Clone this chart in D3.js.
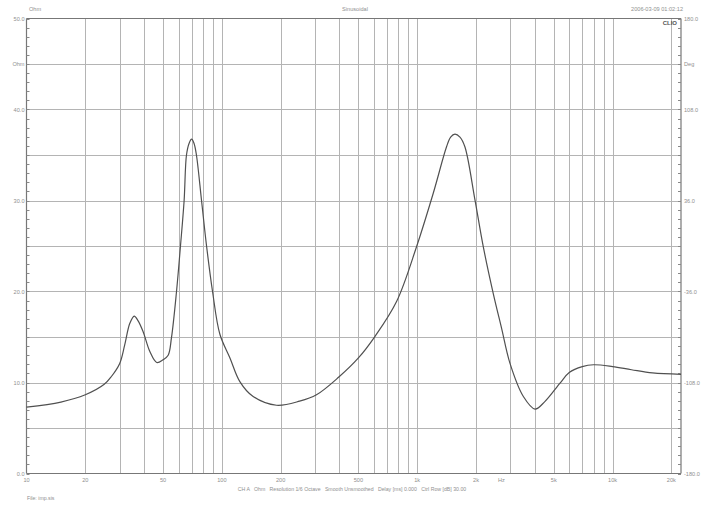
<!DOCTYPE html>
<html>
<head>
<meta charset="utf-8">
<script src="https://cdn.jsdelivr.net/npm/d3@7"></script>
<style>
  html, body { margin: 0; padding: 0; background: #fff; }
  svg text { font-family: "Liberation Sans", Arial, sans-serif; fill: #8f8f8f; }
</style>
</head>
<body>
<svg id="chart" width="708" height="510"></svg>
<script>
// ---- Data ----
const freqHz = [10, 15, 20, 25, 27.2, 30, 31.8, 33.8, 35.6, 37.2, 39.5, 42.8, 46.4, 50, 53.1, 55.2, 58.6, 61.4, 64.1, 65.9, 68, 70, 72, 74.1, 78.7, 83.5, 89.6, 97.7, 110, 123.6, 144.6, 190.5, 250, 305, 397, 500, 607, 784, 993, 1208, 1413, 1483, 1560, 1655, 1754, 1974, 2177, 2449, 2700, 2985, 3494, 4009, 4500, 5383, 6000, 7000, 8000, 10000, 12500, 16000, 22400];
const impedanceOhm = [7.3, 7.85, 8.65, 9.8, 10.66, 12.1, 14.1, 16.5, 17.3, 16.8, 15.6, 13.4, 12.2, 12.5, 13.0, 14.9, 20, 25, 30, 35, 36.3, 36.75, 36.3, 35, 30, 25, 20, 15.3, 12.7, 10.1, 8.46, 7.5, 7.95, 8.65, 10.6, 12.7, 15.05, 18.9, 24.95, 30.8, 35.9, 36.97, 37.3, 36.97, 35.9, 30.1, 24.95, 19.8, 16.0, 12.1, 8.46, 7.08, 7.9, 9.93, 11.1, 11.75, 11.95, 11.75, 11.4, 11.05, 10.9];
const xTickValues = [10, 20, 50, 100, 200, 500, 1000, 2000, 5000, 10000, 20000];
const xTickLabels = ["10", "20", "50", "100", "200", "500", "1k", "2k", "5k", "10k", "20k"];
const leftTickValues = [50, 45, 40, 30, 20, 10, 0];
const leftTickLabels = ["50.0", "Ohm", "40.0", "30.0", "20.0", "10.0", "0.0"];
const rightTickValues = [180, 144, 108, 36, -36, -108, -180];
const rightTickLabels = ["180.0", "Deg", "108.0", "36.0", "-36.0", "-108.0", "-180.0"];
const headerLeft = "Ohm";
const headerCenter = "Sinusoidal";
const headerRight = "2006-03-09 01:02:12";
const footerInfo = "CH A   Ohm   Resolution 1/6 Octave   Smooth Unsmoothed   Delay [ms] 0.000   Ctrl Row [dB] 30.00";
const fileInfo = "File: imp.sis";

// ---- Layout ----
const L = 26.5, R = 681, T = 18.5, B = 473.5;
const svg = d3.select("#chart");

const x = d3.scaleLog().domain([10, 22400]).range([L, R]);
const y = d3.scaleLinear().domain([0, 50]).range([B, T]);
const yR = d3.scaleLinear().domain([-180, 180]).range([B, T]);

// Vertical log grid
const gridX = [];
for (let dec = 10; dec <= 10000; dec *= 10) {
  for (let m = 1; m <= 9; m++) {
    const f = dec * m;
    if (f > 10 && f <= 20000) gridX.push(f);
  }
}
svg.append("g").selectAll("line").data(gridX).join("line")
  .attr("x1", d => Math.round(x(d)) + 0.5).attr("x2", d => Math.round(x(d)) + 0.5)
  .attr("y1", T).attr("y2", B)
  .attr("stroke", "#b4b4b4").attr("stroke-width", 1);

// Horizontal grid every 5 ohm
const gridY = d3.range(5, 50, 5);
svg.append("g").selectAll("line").data(gridY).join("line")
  .attr("x1", L).attr("x2", R)
  .attr("y1", d => Math.round(y(d)) + 0.5).attr("y2", d => Math.round(y(d)) + 0.5)
  .attr("stroke", "#b4b4b4").attr("stroke-width", 1);

// Frame
svg.append("line").attr("x1", L).attr("x2", R).attr("y1", T).attr("y2", T).attr("stroke", "#777").attr("stroke-width", 1.2);
svg.append("line").attr("x1", L).attr("x2", R).attr("y1", B).attr("y2", B).attr("stroke", "#777").attr("stroke-width", 1.2);
svg.append("line").attr("x1", L).attr("x2", L).attr("y1", T).attr("y2", B).attr("stroke", "#777").attr("stroke-width", 1.2);
svg.append("line").attr("x1", R).attr("x2", R).attr("y1", T).attr("y2", B).attr("stroke", "#777").attr("stroke-width", 1.2);

// Minor ticks, left (1 ohm) and right (7.2 deg)
const minorL = d3.range(0, 51, 1);
svg.append("g").selectAll("line").data(minorL).join("line")
  .attr("x1", L).attr("x2", L + 3)
  .attr("y1", d => Math.round(y(d)) + 0.5).attr("y2", d => Math.round(y(d)) + 0.5)
  .attr("stroke", "#888").attr("stroke-width", 1);
const minorR = d3.range(0, 51, 1).map(i => -180 + i * 7.2);
svg.append("g").selectAll("line").data(minorR).join("line")
  .attr("x1", R - 3).attr("x2", R)
  .attr("y1", d => Math.round(yR(d)) + 0.5).attr("y2", d => Math.round(yR(d)) + 0.5)
  .attr("stroke", "#888").attr("stroke-width", 1);

// Axis labels
svg.append("g").selectAll("text").data(leftTickValues).join("text")
  .attr("x", L - 2).attr("y", d => y(d) + 2)
  .attr("text-anchor", "end").attr("font-size", 5.6)
  .text((d, i) => leftTickLabels[i]);
svg.append("g").selectAll("text").data(rightTickValues).join("text")
  .attr("x", R + 3).attr("y", d => yR(d) + 2)
  .attr("text-anchor", "start").attr("font-size", 5.6)
  .text((d, i) => rightTickLabels[i]);
svg.append("g").selectAll("text").data(xTickValues).join("text")
  .attr("x", d => x(d)).attr("y", 482)
  .attr("text-anchor", "middle").attr("font-size", 5.6)
  .text((d, i) => xTickLabels[i]);
svg.append("text").attr("x", x(2700)).attr("y", 482).attr("text-anchor", "middle").attr("font-size", 5.6).text("Hz");

// Headers & footers
svg.append("text").attr("x", 29).attr("y", 11).attr("font-size", 5.6).text(headerLeft);
svg.append("text").attr("x", 355).attr("y", 11).attr("text-anchor", "middle").attr("font-size", 5.6).text(headerCenter);
svg.append("text").attr("x", 683).attr("y", 11).attr("text-anchor", "end").attr("font-size", 5.6).text(headerRight);
svg.append("text").attr("x", 677).attr("y", 25).attr("text-anchor", "end").attr("font-size", 6)
  .attr("font-weight", "bold").style("fill", "#555").text("CLIO");
svg.append("text").attr("x", 352).attr("y", 491).attr("text-anchor", "middle").attr("font-size", 5.2).attr("xml:space", "preserve").text(footerInfo);
svg.append("text").attr("x", 27).attr("y", 500).attr("font-size", 5.2).text(fileInfo);

// Impedance curve
const pts = freqHz.map((f, i) => [f, impedanceOhm[i]]);
const line = d3.line().x(d => x(d[0])).y(d => y(d[1])).curve(d3.curveCatmullRom.alpha(0.5));
svg.append("path").datum(pts)
  .attr("d", line).attr("fill", "none")
  .attr("stroke", "#505050").attr("stroke-width", 1.2);
</script>
</body>
</html>
